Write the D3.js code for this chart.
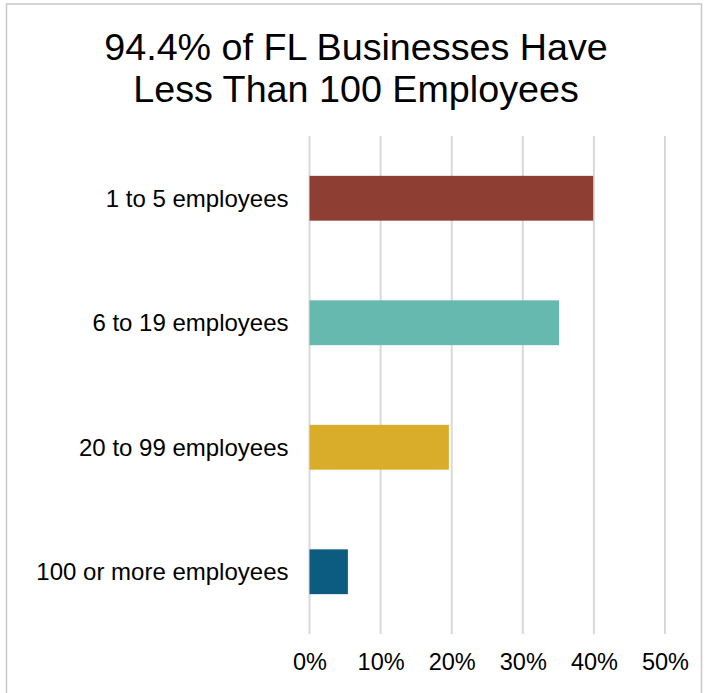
<!DOCTYPE html>
<meta charset="utf-8">
<title>FL Businesses by Size</title>
<style>

body {
  margin: 0;
  background: #fff;
  font-family: "Liberation Sans", Arial, sans-serif;
}

.grid line {
  stroke: #d9d9d9;
  stroke-width: 2px;
}

</style>
<body>
<script src="https://cdn.jsdelivr.net/npm/d3@7/dist/d3.min.js"></script>
<script>
// data
var categories = ["1 to 5 employees", "6 to 19 employees", "20 to 99 employees", "100 or more employees"],
    shares = [39.9, 35.1, 19.6, 5.4],
    colors = ["#8f3e34", "#65b9af", "#d9ad29", "#0c5c80"],
    ticks = [0, 10, 20, 30, 40, 50],
    titleLines = ["94.4% of FL Businesses Have", "Less Than 100 Employees"];

var w = 706,
    h = 693,
    plotLeft = 309.5,
    plotRight = 665,
    plotTop = 136,
    plotBottom = 634;

var svg = d3.select("body").append("svg")
    .attr("width", w)
    .attr("height", h);

// chart frame
svg.append("rect")
    .attr("x", 6.5)
    .attr("y", 4)
    .attr("width", 695)
    .attr("height", 700)
    .attr("fill", "none")
    .attr("stroke", "#c8c8c8")
    .attr("stroke-width", 1.5);

svg.append("text")
    .attr("text-anchor", "middle")
    .attr("font-size", 37.7)
    .attr("fill", "#000")
  .selectAll("tspan")
    .data(titleLines)
  .enter().append("tspan")
    .attr("x", 356)
    .attr("y", function(d, i) { return 60 + i * 42; })
    .text(function(d) { return d; });

var x = d3.scaleLinear()
    .domain([0, 50])
    .range([plotLeft, plotRight]);

var y = d3.scaleBand()
    .domain(categories)
    .range([plotTop, plotBottom])
    .paddingInner(0.64)
    .paddingOuter(0.32);

// vertical gridlines
svg.append("g")
    .attr("class", "grid")
  .selectAll("line")
    .data(ticks)
  .enter().append("line")
    .attr("x1", x)
    .attr("x2", x)
    .attr("y1", plotTop)
    .attr("y2", plotBottom);

svg.selectAll("rect.bar")
    .data(shares)
  .enter().append("rect")
    .attr("class", "bar")
    .attr("x", x(0))
    .attr("y", function(d, i) { return y(categories[i]); })
    .attr("width", function(d) { return x(d) - x(0); })
    .attr("height", y.bandwidth())
    .attr("fill", function(d, i) { return colors[i]; });

// category labels
var yAxis = svg.append("g")
    .attr("transform", "translate(" + (plotLeft - 21) + ",0)")
    .call(d3.axisLeft(y).tickSize(0).tickPadding(0));
yAxis.select(".domain").remove();
yAxis.selectAll("text")
    .attr("font-family", "'Liberation Sans', Arial, sans-serif")
    .attr("font-size", 24)
    .attr("fill", "#000")
    .attr("dy", "0.35em");

// percent labels
var xAxis = svg.append("g")
    .attr("transform", "translate(0," + plotBottom + ")")
    .call(d3.axisBottom(x).tickValues(ticks).tickSize(0).tickPadding(0)
      .tickFormat(function(d) { return d + "%"; }));
xAxis.select(".domain").remove();
xAxis.selectAll("text")
    .attr("font-family", "'Liberation Sans', Arial, sans-serif")
    .attr("font-size", 23.5)
    .attr("fill", "#000")
    .attr("dy", null)
    .attr("y", 36);
</script>
